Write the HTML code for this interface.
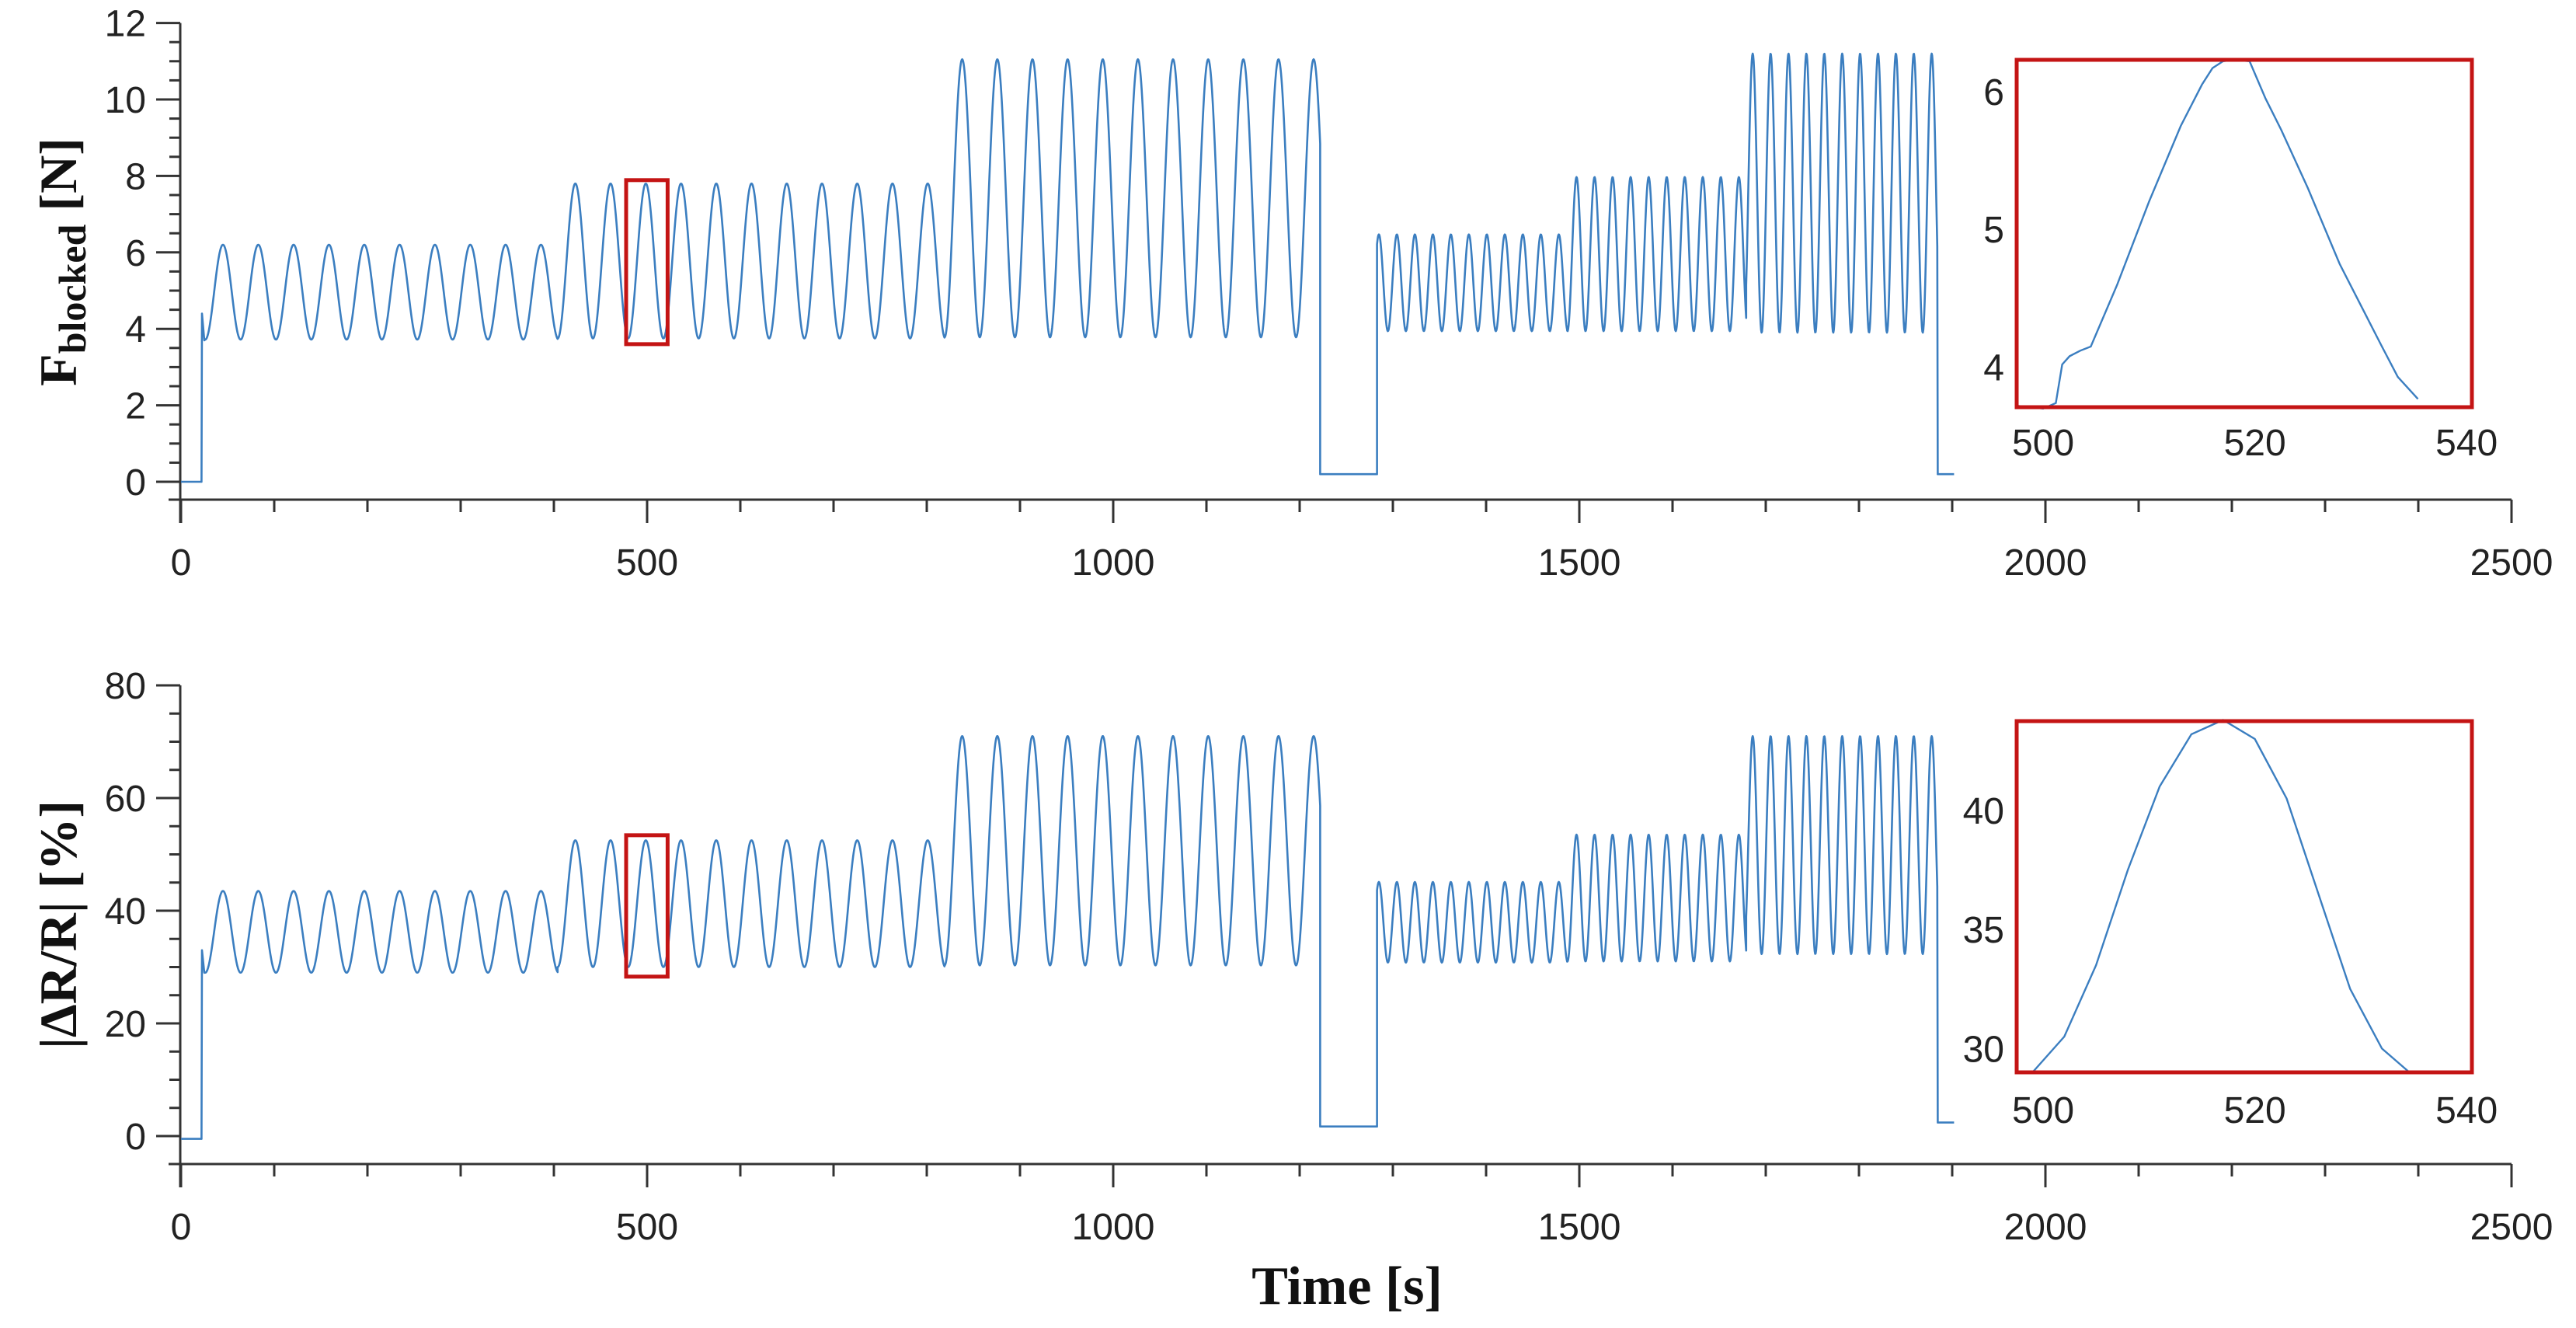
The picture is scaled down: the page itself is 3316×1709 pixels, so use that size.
<!DOCTYPE html>
<html><head><meta charset="utf-8">
<style>
html,body{margin:0;padding:0;background:#fff;}
svg{display:block;}
text{font-family:"Liberation Sans",sans-serif;fill:#222;}
.lab{font-family:"Liberation Serif",serif;font-weight:bold;fill:#111;}
</style></head>
<body>
<svg id="chart" width="3316" height="1709" viewBox="0 0 3316 1709" xmlns="http://www.w3.org/2000/svg">
<g id="g-top"></g>
<g id="g-bot"></g>
<g id="g-ins1"></g>
<g id="g-ins2"></g>
<text class="lab" x="1734" y="1678" font-size="70" text-anchor="middle">Time [s]</text>
<text class="lab" transform="translate(98,337) rotate(-90)" font-size="68" text-anchor="middle">F<tspan font-size="50" dy="12">blocked</tspan><tspan dy="-12"> [N]</tspan></text>
<text class="lab" transform="translate(98,1190) rotate(-90)" font-size="68" text-anchor="middle">|ΔR/R| [%]</text>
</svg>
<script>
// ---- data: oscillation segments (seconds, values) ----
const segStart   = [26, 404, 819, 1283, 1487, 1679];
const segEnd     = [404, 819, 1222, 1487, 1679, 1884];
const segPeak1   = [45, 423, 838, 1285, 1497, 1686];
const segPeriod  = [37.9, 37.8, 37.7, 19.3, 19.35, 19.2];
const forceMax   = [6.2, 7.8, 11.05, 6.47, 7.97, 11.2];
const forceMin   = [3.72, 3.75, 3.78, 3.94, 3.94, 3.9];
const resMax     = [43.5, 52.5, 71.0, 45.1, 53.5, 71.0];
const resMin     = [29.0, 30.0, 30.3, 30.8, 31.0, 32.3];
const forceRest  = [0, 0.2, 0.2];   // before start, gap, after end
const resRest    = [-0.5, 1.7, 2.4];
const restTimes  = [0, 22, 1222, 1283, 1884, 1902];
const forceStart = [4.4, 3.7];
const resStart   = [33, 29];
const xTicks = [0, 500, 1000, 1500, 2000, 2500];
const topTicks = [0, 2, 4, 6, 8, 10, 12];
const botTicks = [0, 20, 40, 60, 80];
// inset data
const ins1T = [497.5,500,501.2,501.8,502.5,503.5,504.5,507,510,513,515,516,517,518,519.5,521,522.5,525,528,530,532,533.5,535.4];
const ins1V = [3.72,3.7,3.74,4.02,4.08,4.12,4.15,4.6,5.2,5.75,6.05,6.17,6.22,6.23,6.22,5.95,5.72,5.3,4.75,4.45,4.15,3.93,3.77];
const ins2T = [499,502,505,508,511,514,517,520,523,526,529,532,534.6];
const ins2V = [29.0,30.5,33.5,37.5,41,43.2,43.8,43,40.5,36.5,32.5,30,29.0];
const ins1Ticks=[4,5,6], ins2Ticks=[30,35,40], insXTicks=[500,520,540];

const NS="http://www.w3.org/2000/svg";
function mk(parent,tag,attrs){const e=document.createElementNS(NS,tag);for(const k in attrs)e.setAttribute(k,attrs[k]);parent.appendChild(e);return e;}
const sx=t=>233+t*1.2;
const BLUE="#3b7ec0";

function series(maxA,minA,rest,start){
  const pts=[];
  pts.push([restTimes[0],rest[0]]);pts.push([restTimes[1],rest[0]]);
  pts.push([restTimes[1]+0.5,start[0]]);pts.push([segStart[0]-1,start[1]]);
  for(let s=0;s<segStart.length;s++){
    if(s===3){pts.push([restTimes[2],rest[1]]);pts.push([restTimes[3],rest[1]]);}
    for(let t=segStart[s];t<=segEnd[s];t+=0.5){
      const c=Math.cos(2*Math.PI*(t-segPeak1[s])/segPeriod[s]);
      pts.push([t,minA[s]+(maxA[s]-minA[s])*(1+c)/2]);
    }
  }
  pts.push([restTimes[4]+0.5,rest[2]]);pts.push([restTimes[5],rest[2]]);
  return pts;
}

function panel(g,sy,axisY,yTop,ticks,minorStep,yMin,yMax,data,box,name){
  // y axis
  let a=mk(g,'line',{x1:232,y1:sy(yMax),x2:232,y2:axisY+30,stroke:'#333','stroke-width':3});
  
  for(let v=yMin;v<=yMax+1e-9;v+=minorStep){
    const y=sy(v);const major=ticks.includes(Math.round(v*100)/100);
    const t=mk(g,'line',{x1:major?201:218,y1:y,x2:232,y2:y,stroke:'#333','stroke-width':3});
    
  }
  ticks.forEach(v=>{const t=mk(g,'text',{x:188,y:sy(v)+17,'font-size':48,'text-anchor':'end'});t.textContent=v;
    });
  // x axis
  a=mk(g,'line',{x1:217,y1:axisY,x2:sx(2500),y2:axisY,stroke:'#333','stroke-width':3});
  
  for(let v=0;v<=2500;v+=100){const major=v%500===0;
    const t=mk(g,'line',{x1:sx(v),y1:axisY,x2:sx(v),y2:axisY+(major?30:16),stroke:'#333','stroke-width':3});
    }
  xTicks.forEach(v=>{const t=mk(g,'text',{x:sx(v),y:axisY+97,'font-size':48,'text-anchor':'middle'});t.textContent=v;
    });
  // line
  const d=data.map((p,i)=>(i?'L':'M')+sx(p[0]).toFixed(1)+' '+sy(p[1]).toFixed(1)).join('');
  const l=mk(g,'path',{d:d,fill:'none',stroke:BLUE,'stroke-width':2.6,'stroke-linejoin':'round'});
  
  // zoom box
  const r=mk(g,'rect',{x:sx(box[0]),y:sy(box[3]),width:sx(box[1])-sx(box[0]),height:sy(box[2])-sy(box[3]),fill:'none',stroke:'#c41414','stroke-width':5});
  
}

const syTop=v=>620-v*49.2;
panel(document.getElementById('g-top'),syTop,643,30,topTicks,0.5,0,12,series(forceMax,forceMin,forceRest,forceStart),[477.5,522,3.6,7.89],'force');
const syBot=v=>1462-v*7.25;
panel(document.getElementById('g-bot'),syBot,1498,882,botTicks,5,0,80,series(resMax,resMin,resRest,resStart),[477.5,522,28.3,53.4],'resistance');

function inset(g,x0,x1,y0,y1,vmin,vmax,T,V,yt,name,lblY){
  const fx=t=>x0+(t-497.5)/(540.5-497.5)*(x1-x0);
  const fy=v=>y1-(v-vmin)/(vmax-vmin)*(y1-y0);
  const d=T.map((t,i)=>(i?'L':'M')+fx(t).toFixed(1)+' '+fy(V[i]).toFixed(1)).join('');
  const l=mk(g,'path',{d:d,fill:'none',stroke:BLUE,'stroke-width':2.4});
  
  const r=mk(g,'rect',{x:x0,y:y0,width:x1-x0,height:y1-y0,fill:'none',stroke:'#c41414','stroke-width':5});
  
  yt.forEach(v=>{const t=mk(g,'text',{x:x0-16,y:fy(v)+17,'font-size':48,'text-anchor':'end'});t.textContent=v;
    });
  insXTicks.forEach(v=>{const t=mk(g,'text',{x:fx(v),y:lblY,'font-size':48,'text-anchor':'middle'});t.textContent=v;
    });
}
inset(document.getElementById('g-ins1'),2596,3182,77,524,3.71,6.23,ins1T,ins1V,ins1Ticks,'force',586);
inset(document.getElementById('g-ins2'),2596,3182,928,1380,29.0,43.75,ins2T,ins2V,ins2Ticks,'resistance',1445);
</script>
</body></html>
